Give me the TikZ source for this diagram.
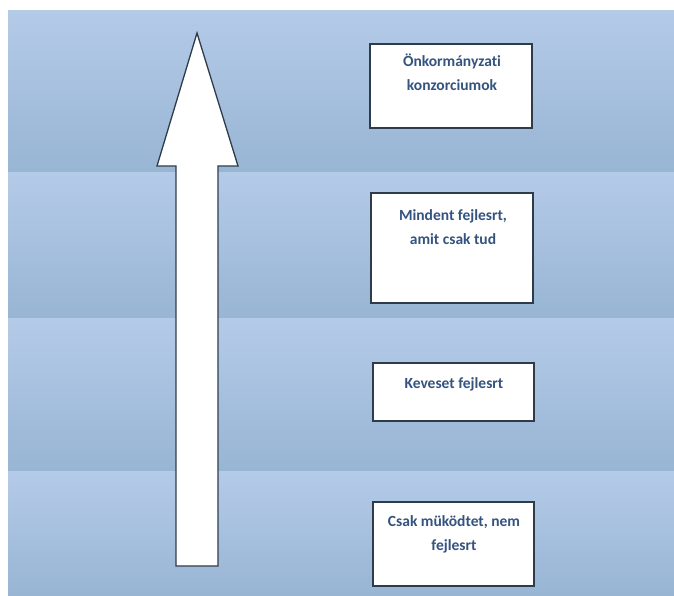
\documentclass[tikz,border=0pt]{standalone}
\usepackage{fontspec}
\newfontfamily\boxfont[Ligatures=NoCommon]{Carlito}
\definecolor{bandtop}{HTML}{B4CBE8}
\definecolor{bandbot}{HTML}{98B5D4}
\definecolor{edge}{HTML}{2E3B4A}
\definecolor{txt}{HTML}{34537F}
\tikzset{
  band/.style={top color=bandtop, bottom color=bandbot, draw=none},
  stagebox/.style={draw=edge, line width=1.8pt, fill=white, inner sep=0pt},
  stagetext/.style={font=\boxfont\bfseries\fontsize{15.5}{24}\selectfont, text=txt, align=center, anchor=base, inner sep=0pt},
}
\begin{document}
\begin{tikzpicture}[x=1pt,y=-1pt]
\useasboundingbox (0,0) rectangle (674,595);
\fill[white] (0,0) rectangle (674,595);
% bands
\shade[band] (8,10) rectangle (674,172);
\shade[band] (8,172) rectangle (674,318);
\shade[band] (8,318) rectangle (674,471);
\shade[band] (8,471) rectangle (674,595);
% arrow
\draw[draw=edge, line width=1.3pt, fill=white, line join=miter]
  (197,33) -- (238,166) -- (218,166) -- (218,566) -- (176,566) -- (176,166) -- (157,166) -- cycle;
% boxes (text anchored at the baseline of its last line)
\node[stagebox, minimum width=162pt, minimum height=84pt] (b1) at (451,86) {};
\node[stagetext] (t1) at (452,90) {Önkormányzati\\konzorciumok};
\node[stagebox, minimum width=162pt, minimum height=110pt] (b2) at (452,248) {};
\node[stagetext] (t2) at (453,244) {Mindent fejlesrt,\\amit csak tud};
\node[stagebox, minimum width=161pt, minimum height=58pt] (b3) at (453.5,392) {};
\node[stagetext] (t3) at (454,388) {Keveset fejlesrt};
\node[stagebox, minimum width=161pt, minimum height=84pt] (b4) at (453.5,544) {};
\node[stagetext] (t4) at (454,550) {Csak müködtet, nem\\fejlesrt};
\end{tikzpicture}
\end{document}
